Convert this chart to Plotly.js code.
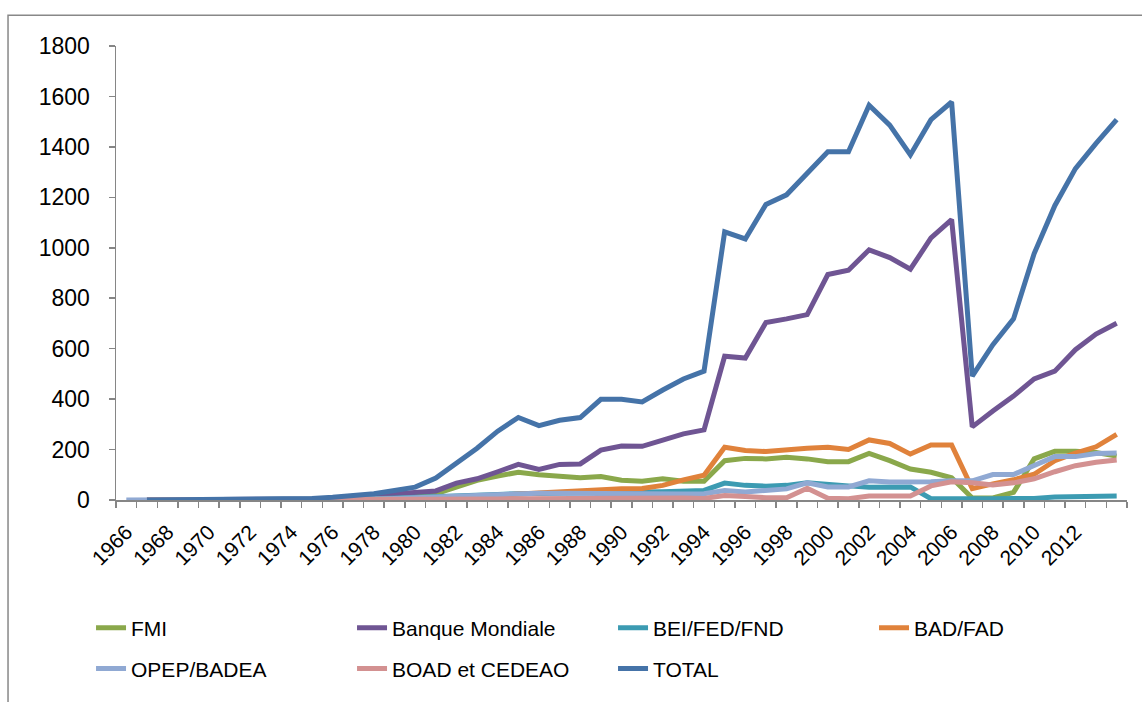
<!DOCTYPE html>
<html>
<head>
<meta charset="utf-8">
<script src="https://cdn.plot.ly/plotly-3.0.1.min.js"></script>
<style>html,body{margin:0;padding:0;background:#fff;}#chart{width:1142px;height:702px;}</style>
</head>
<body>
<div id="chart"></div>
<script>
const years = [1966,1967,1968,1969,1970,1971,1972,1973,1974,1975,1976,1977,1978,1979,1980,1981,1982,1983,1984,1985,1986,1987,1988,1989,1990,1991,1992,1993,1994,1995,1996,1997,1998,1999,2000,2001,2002,2003,2004,2005,2006,2007,2008,2009,2010,2011,2012,2013,2014];
const tickYears = [1966,1968,1970,1972,1974,1976,1978,1980,1982,1984,1986,1988,1990,1992,1994,1996,1998,2000,2002,2004,2006,2008,2010,2012];

const fmi   = [null, 0,0,0,0,0,0,1,1,2,3, 5,8,12,18,25,51,78,95,110,100, 93,88,93,78,74,84,74,74,156,165, 163,169,163,152,152,185,156,123,110,88, 8,8,30,163,193,193,188,174];
const bm    = [null, 0,0,1,1,1,2,2,3,4,7, 12,18,24,30,36,67,84,112,141,121, 141,143,198,214,213,237,262,278,570,563, 704,718,735,894,911,992,961,915,1039,1112, 290,353,412,480,511,596,658,701];
const bei   = [null, 0,0,0,0,0,0,0,0,1,2, 3,5,7,9,12,15,18,22,25,27, 28,29,30,31,32,33,35,38,67,58, 55,58,68,60,56,51,50,52,5,4, 4,5,6,6,12,15,16,16];
const bad   = [null, 0,0,0,0,0,0,0,0,0,0, 0,1,2,3,5,8,12,17,24,29, 33,38,44,45,46,58,80,98,209,196, 192,200,205,209,200,238,224,182,218,218, 45,64,80,102,156,186,211,260];
const opep  = [0, 0,0,0,0,0,0,0,0,0,1, 2,4,6,9,11,14,17,24,26,27, 27,26,27,26,25,24,24,25,38,32, 36,44,68,52,52,76,71,71,72,76, 76,101,101,137,172,172,184,186];
const boad  = [null, 0,0,0,0,0,0,0,0,0,0, 0,0,0,1,1,2,3,4,5,6, 6,7,7,8,8,8,8,6,18,14, 9,9,47,7,5,16,16,16,56,72, 68,60,68,84,112,136,150,159];
const total = [null, 0,1,1,2,2,3,3,4,6,11, 17,25,38,51,87,145,205,273,327,295, 316,327,399,399,389,436,480,511,1063,1035, 1172,1210,1292,1381,1381,1565,1486,1368,1508,1578, 491,616,718,977,1167,1314,1414,1508];

const seriesNames = ['FMI','Banque Mondiale','BEI/FED/FND','BAD/FAD','OPEP/BADEA','BOAD et CEDEAO','TOTAL'];
const seriesData = [fmi, bm, bei, bad, opep, boad, total];
const colors = ['#8AA84B','#6F5593','#3C9BB2','#E0823B','#90A9D3','#D39191','#4573A8'];
const legendOf = ['legend','legend','legend','legend','legend2','legend2','legend2'];

const font = 'Liberation Sans, Arial, sans-serif';

const traces = seriesData.map((d, i) => ({
  type: 'scatter', mode: 'lines', x: years, y: d, name: seriesNames[i],
  line: {color: colors[i], width: 5, shape: 'linear'},
  connectgaps: false, legend: legendOf[i], hoverinfo: 'skip'
}));

const legendCommon = {
  orientation: 'h', x: -0.0247, xanchor: 'left', yanchor: 'middle',
  entrywidth: 216, entrywidthmode: 'pixels', font: {family: font, size: 21, color: '#000'},
  bgcolor: 'rgba(0,0,0,0)', traceorder: 'normal'
};

const layout = {
  width: 1142, height: 702,
  margin: {l: 116, r: 15, t: 46, b: 199},
  paper_bgcolor: '#fff', plot_bgcolor: '#fff',
  font: {family: font, size: 20, color: '#000'},
  showlegend: true,
  xaxis: {
    range: [1965.5, 2014.5], tickmode: 'array', tickvals: tickYears, ticktext: tickYears.map(String),
    tickangle: -45, ticks: '', showgrid: false, zeroline: false,
    showline: true, linecolor: '#868686', linewidth: 1.5,
    tickfont: {family: font, size: 21, color: '#000'}, ticklabelstandoff: 10,
    minor: {tickmode: 'linear', tick0: 1965.5, dtick: 1, ticks: 'outside', ticklen: 6, tickcolor: '#868686', tickwidth: 1.5, showgrid: false}
  },
  yaxis: {
    range: [0, 1800], dtick: 200, tick0: 0, ticks: 'outside', ticklen: 6, tickcolor: '#868686', tickwidth: 1.5,
    showgrid: false, zeroline: false, showline: true, linecolor: '#868686', linewidth: 1.5,
    tickfont: {family: font, size: 23, color: '#000'}, ticklabelstandoff: 14
  },
  legend: Object.assign({}, legendCommon, {y: -0.282}),
  legend2: Object.assign({}, legendCommon, {y: -0.372}),
  shapes: [{
    type: 'rect', xref: 'paper', yref: 'paper',
    x0: -0.1068, x1: 1.2, y0: -0.6, y1: 1.0678,
    line: {color: '#888888', width: 1.5}, fillcolor: 'rgba(0,0,0,0)', layer: 'below'
  }]
};

Plotly.newPlot('chart', traces, layout, {displayModeBar: false, staticPlot: true});
</script>
</body>
</html>
